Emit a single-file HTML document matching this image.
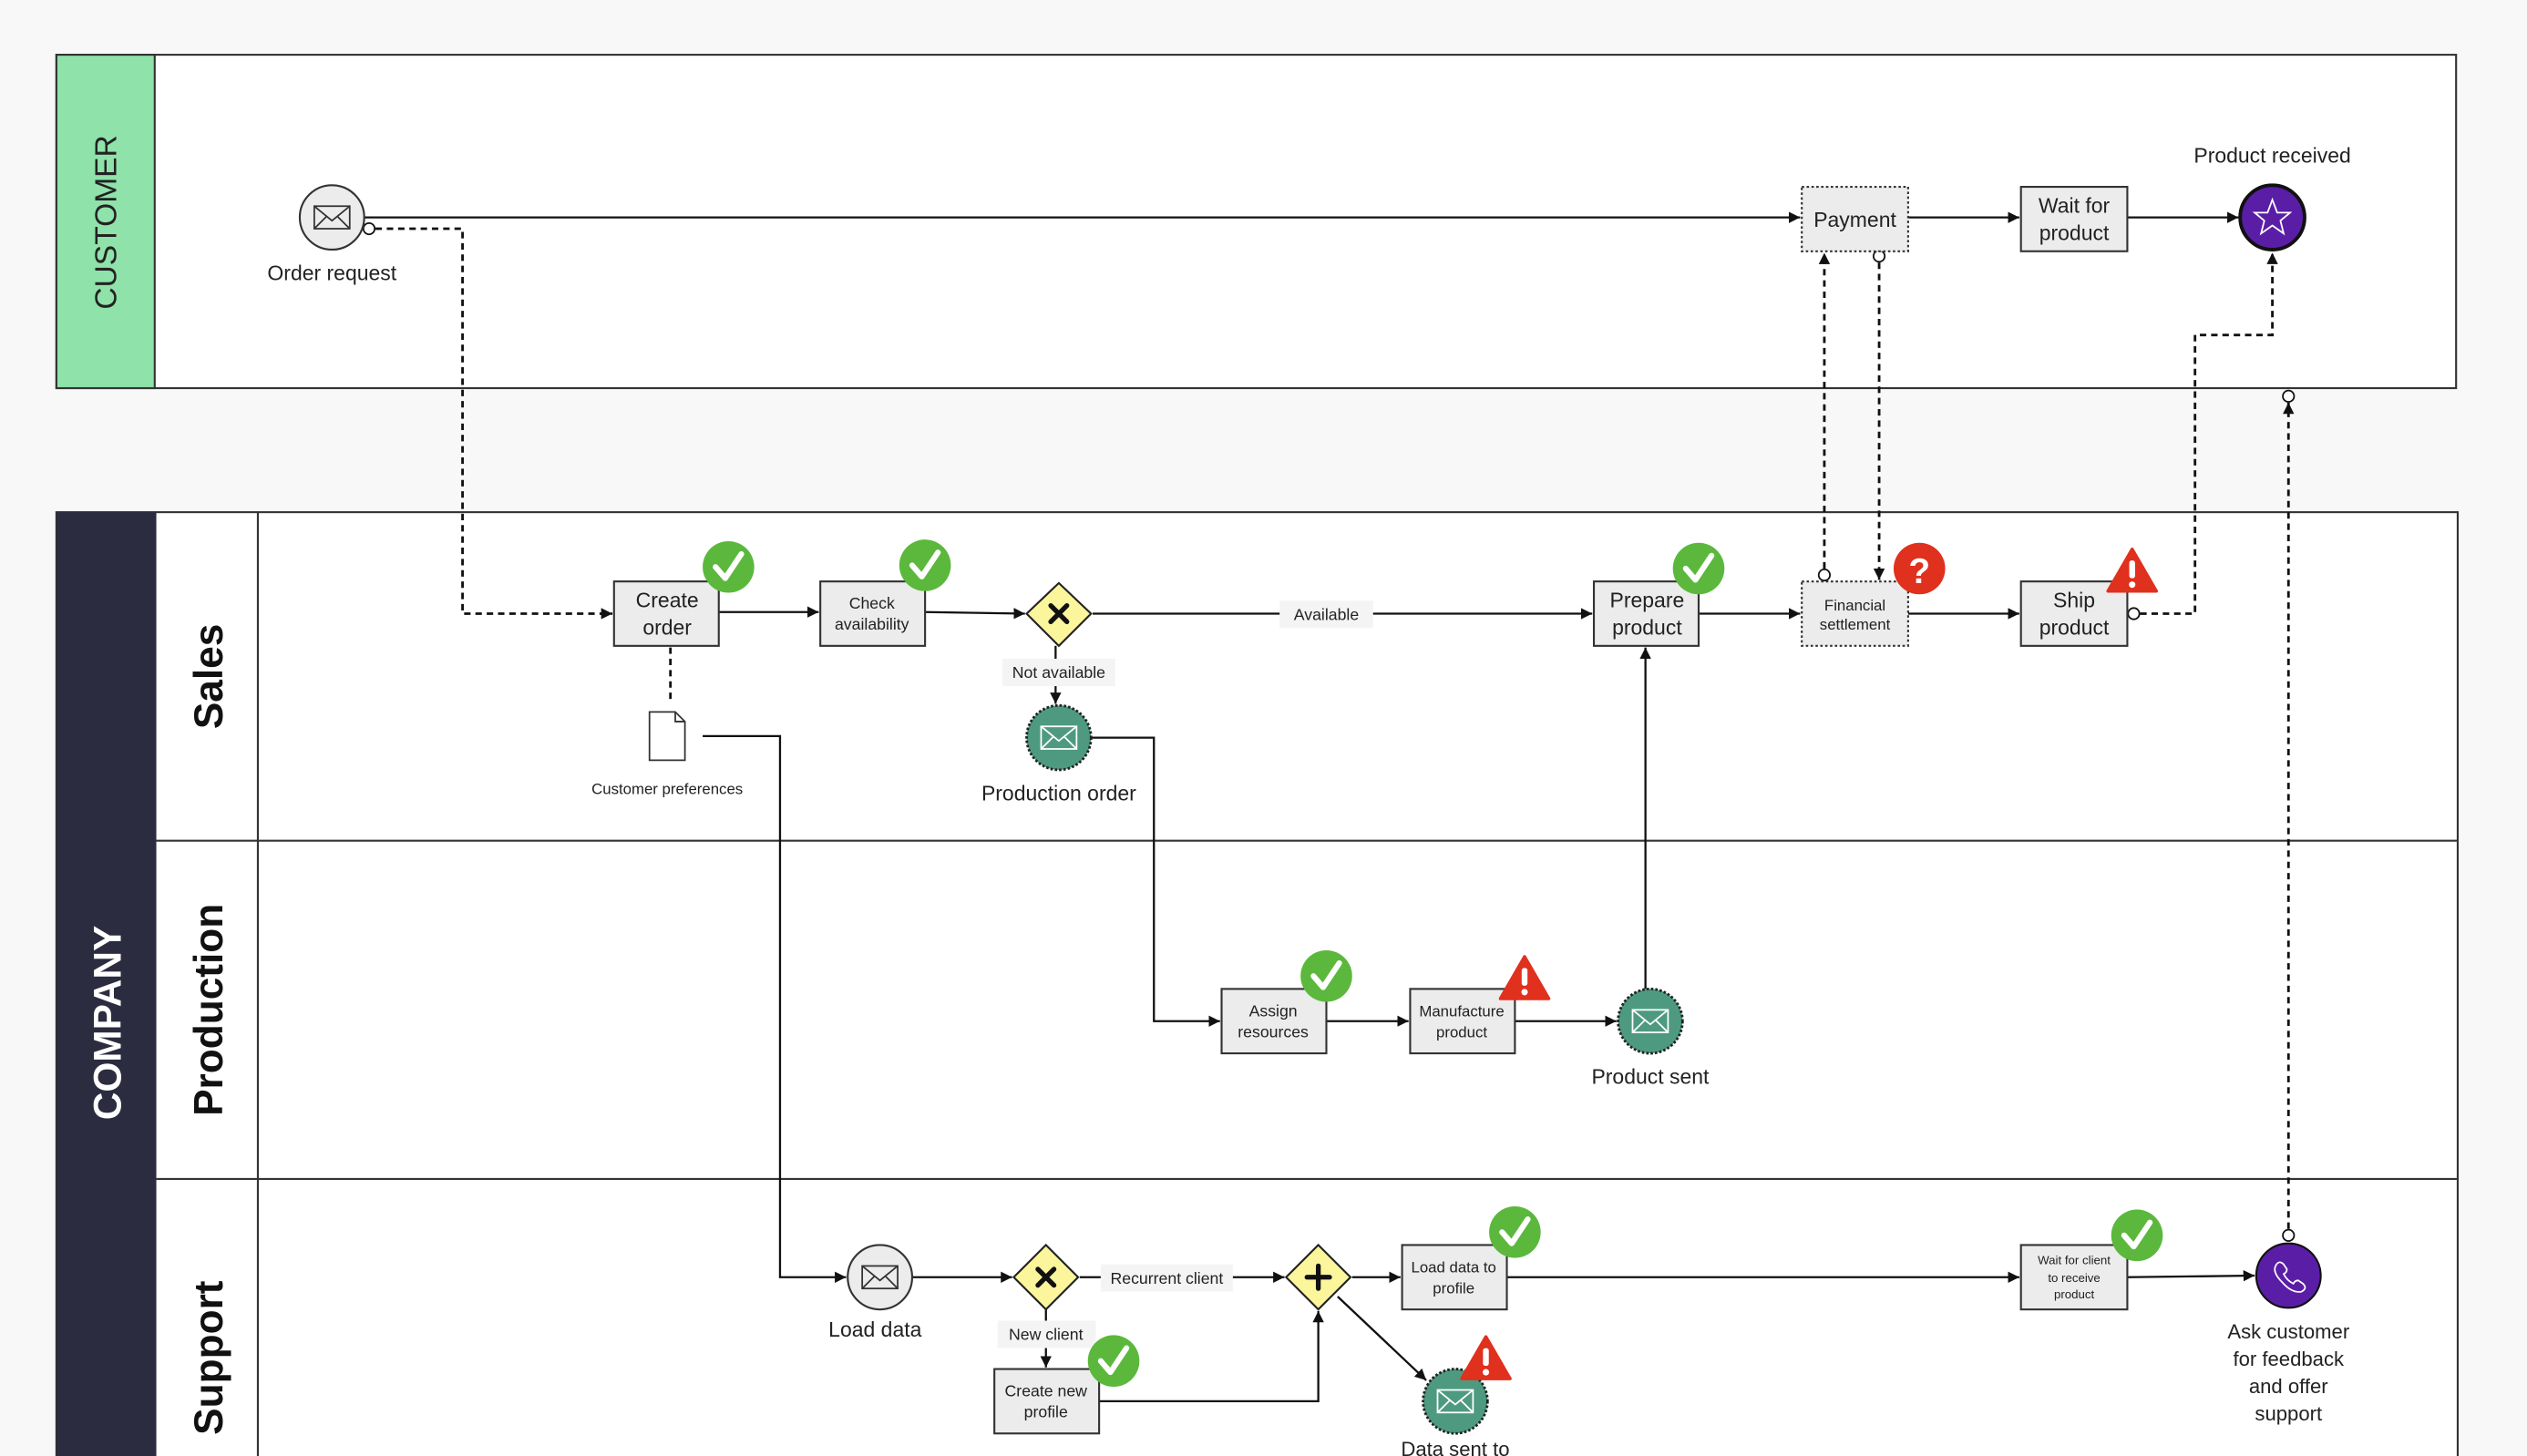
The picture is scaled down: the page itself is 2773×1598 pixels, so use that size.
<!DOCTYPE html>
<html><head><meta charset="utf-8"><style>
html,body{margin:0;padding:0;background:#f8f8f8;}
svg{display:block;font-family:"Liberation Sans",sans-serif;}
</style></head><body>
<svg width="2773" height="1598" viewBox="0 0 1568 904" preserveAspectRatio="none" xmlns="http://www.w3.org/2000/svg">
<defs>
<marker id="a" markerWidth="8" markerHeight="8" refX="7" refY="4" orient="auto" markerUnits="userSpaceOnUse"><path d="M0,0.5 L7,4 L0,7.5 Z" fill="#111"/></marker>
<g id="env"><rect x="-11" y="-7" width="22" height="14" fill="none" stroke="currentColor" stroke-width="1"/><path d="M-11,-7 L0,2 L11,-7 M-11,7 L-3,-1 M11,7 L3,-1" fill="none" stroke="currentColor" stroke-width="1"/></g>
<g id="chk"><circle r="16" fill="#5bb83c"/><path d="M-8,0 L-2,7 L8,-8" fill="none" stroke="#fff" stroke-width="3.5" stroke-linecap="round" stroke-linejoin="round"/></g>
<g id="warn"><path d="M0,-14 L15,12 L-15,12 Z" fill="#e0301e" stroke="#e0301e" stroke-width="2" stroke-linejoin="round"/><rect x="-1.8" y="-7" width="3.6" height="11" rx="1.5" fill="#fff"/><circle cx="0" cy="8" r="2" fill="#fff"/></g>
</defs>
<rect width="1568" height="904" fill="#f8f8f8"/>
<!-- customer pool -->
<rect x="35" y="34" width="1489" height="207" fill="#fff" stroke="#333" stroke-width="1.2"/>
<rect x="35" y="34" width="61" height="207" fill="#8fe2a9" stroke="#333" stroke-width="1.2"/>
<text transform="translate(72,138) rotate(-90)" text-anchor="middle" font-size="19" fill="#222">CUSTOMER</text>
<!-- company pool -->
<rect x="35" y="318" width="1490" height="600" fill="#fff" stroke="#333" stroke-width="1.2"/>
<rect x="35" y="318" width="62" height="600" fill="#2c2c40"/>
<text transform="translate(75,635) rotate(-90)" text-anchor="middle" font-size="24" font-weight="bold" fill="#fff">COMPANY</text>
<line x1="160" y1="318" x2="160" y2="904" stroke="#333" stroke-width="1.2"/>
<line x1="97" y1="522" x2="1525" y2="522" stroke="#333" stroke-width="1.2"/>
<line x1="97" y1="732" x2="1525" y2="732" stroke="#333" stroke-width="1.2"/>
<text transform="translate(138,420) rotate(-90)" text-anchor="middle" font-size="25" font-weight="bold" fill="#111">Sales</text>
<text transform="translate(138,627) rotate(-90)" text-anchor="middle" font-size="25" font-weight="bold" fill="#111">Production</text>
<text transform="translate(138,843) rotate(-90)" text-anchor="middle" font-size="25" font-weight="bold" fill="#111">Support</text>

<g fill="none" stroke="#111" stroke-width="1.3">
<!-- solid flows -->
<line x1="226" y1="135" x2="1117" y2="135" marker-end="url(#a)"/>
<line x1="1184" y1="135" x2="1253" y2="135" marker-end="url(#a)"/>
<line x1="1320" y1="135" x2="1389" y2="135" marker-end="url(#a)"/>
<line x1="446" y1="380" x2="508" y2="380" marker-end="url(#a)"/>
<line x1="574" y1="380" x2="636" y2="381" marker-end="url(#a)"/>
<line x1="678" y1="381" x2="988" y2="381" marker-end="url(#a)"/>
<line x1="1054" y1="381" x2="1117" y2="381" marker-end="url(#a)"/>
<line x1="1184" y1="381" x2="1253" y2="381" marker-end="url(#a)"/>
<line x1="655" y1="401" x2="655" y2="437" marker-end="url(#a)"/>
<path d="M436,457 H484 V793 H525" marker-end="url(#a)"/>
<path d="M677,458 H716 V634 H757" marker-end="url(#a)"/>
<line x1="823" y1="634" x2="874" y2="634" marker-end="url(#a)"/>
<line x1="940" y1="634" x2="1003" y2="634" marker-end="url(#a)"/>
<line x1="1021" y1="614" x2="1021" y2="402" marker-end="url(#a)"/>
<line x1="566" y1="793" x2="628" y2="793" marker-end="url(#a)"/>
<line x1="670" y1="793" x2="797" y2="793" marker-end="url(#a)"/>
<line x1="839" y1="793" x2="869" y2="793" marker-end="url(#a)"/>
<line x1="935" y1="793" x2="1253" y2="793" marker-end="url(#a)"/>
<line x1="1320" y1="793" x2="1399" y2="792" marker-end="url(#a)"/>
<line x1="649" y1="813" x2="649" y2="849" marker-end="url(#a)"/>
<path d="M682,870 H818 V814" marker-end="url(#a)"/>
<line x1="830" y1="805" x2="885" y2="857" marker-end="url(#a)"/>
</g>
<g fill="none" stroke="#111" stroke-width="1.6" stroke-dasharray="4,3">
<path d="M233,142 H287 V381 H380" marker-end="url(#a)"/>
<line x1="416" y1="402" x2="416" y2="437"/>
<line x1="1132" y1="353" x2="1132" y2="157" marker-end="url(#a)"/>
<line x1="1166" y1="163" x2="1166" y2="360" marker-end="url(#a)"/>
<path d="M1328,381 H1362 V208 H1410 V157" marker-end="url(#a)"/>
<line x1="1420" y1="763" x2="1420" y2="250" marker-end="url(#a)"/>
</g>
<g fill="#fff" stroke="#111" stroke-width="1">
<circle cx="229" cy="142" r="3.5"/><circle cx="1132" cy="357" r="3.5"/><circle cx="1166" cy="159" r="3.5"/>
<circle cx="1324" cy="381" r="3.5"/><circle cx="1420" cy="767" r="3.5"/><circle cx="1420" cy="246" r="3.5"/>
</g>
<!-- labels with backgrounds -->
<g font-size="10" fill="#222" text-anchor="middle">
<rect x="794" y="373" width="58" height="17" fill="#f4f4f4"/><text x="823" y="385">Available</text>
<rect x="622" y="409" width="70" height="17" fill="#f4f4f4"/><text x="657" y="421">Not available</text>
<rect x="683" y="785" width="82" height="17" fill="#f4f4f4"/><text x="724" y="797">Recurrent client</text>
<rect x="619" y="820" width="61" height="17" fill="#f4f4f4"/><text x="649" y="832">New client</text>
</g>
<!-- tasks -->
<g fill="#ececec" stroke="#333" stroke-width="1.2">
<rect x="1118" y="116" width="66" height="40" stroke-dasharray="1.5,1.5"/>
<rect x="1254" y="116" width="66" height="40"/>
<rect x="381" y="361" width="65" height="40"/>
<rect x="509" y="361" width="65" height="40"/>
<rect x="989" y="361" width="65" height="40"/>
<rect x="1118" y="361" width="66" height="40" stroke-dasharray="1.5,1.5"/>
<rect x="1254" y="361" width="66" height="40"/>
<rect x="758" y="614" width="65" height="40"/>
<rect x="875" y="614" width="65" height="40"/>
<rect x="870" y="773" width="65" height="40"/>
<rect x="1254" y="773" width="66" height="40"/>
<rect x="617" y="850" width="65" height="40"/>
</g>
<g fill="#222" text-anchor="middle">
<text x="1151" y="141" font-size="13">Payment</text>
<text x="1287" y="132" font-size="13">Wait for</text><text x="1287" y="149" font-size="13">product</text>
<text x="414" y="377" font-size="13">Create</text><text x="414" y="394" font-size="13">order</text>
<text x="541" y="378" font-size="10">Check</text><text x="541" y="391" font-size="10">availability</text>
<text x="1022" y="377" font-size="13">Prepare</text><text x="1022" y="394" font-size="13">product</text>
<text x="1151" y="379" font-size="9.5">Financial</text><text x="1151" y="391" font-size="9.5">settlement</text>
<text x="1287" y="377" font-size="13">Ship</text><text x="1287" y="394" font-size="13">product</text>
<text x="790" y="631" font-size="10">Assign</text><text x="790" y="644" font-size="10">resources</text>
<text x="907" y="631" font-size="9.5">Manufacture</text><text x="907" y="644" font-size="9.5">product</text>
<text x="902" y="790" font-size="9.5">Load data to</text><text x="902" y="803" font-size="9.5">profile</text>
<text x="1287" y="785" font-size="7.5">Wait for client</text><text x="1287" y="796" font-size="7.5">to receive</text><text x="1287" y="806" font-size="7.5">product</text>
<text x="649" y="867" font-size="10">Create new</text><text x="649" y="880" font-size="10">profile</text>
<text x="206" y="174" font-size="13">Order request</text>
<text x="1410" y="101" font-size="13">Product received</text>
<text x="414" y="493" font-size="9.5">Customer preferences</text>
<text x="657" y="497" font-size="13">Production order</text>
<text x="1024" y="673" font-size="13">Product sent</text>
<text x="543" y="830" font-size="13">Load data</text>
<text x="1420" y="831" font-size="12.5">Ask customer</text><text x="1420" y="848" font-size="12.5">for feedback</text><text x="1420" y="865" font-size="12.5">and offer</text><text x="1420" y="882" font-size="12.5">support</text>
<text x="903" y="904" font-size="12.5">Data sent to</text>
</g>
<!-- events -->
<circle cx="206" cy="135" r="20" fill="#ececec" stroke="#333" stroke-width="1.2"/><use href="#env" x="206" y="135" style="color:#333"/>
<circle cx="546" cy="793" r="20" fill="#ececec" stroke="#333" stroke-width="1.2"/><use href="#env" x="546" y="793" style="color:#333"/>
<circle cx="1410" cy="135" r="20" fill="#5a1ea6" stroke="#111" stroke-width="2.2"/>
<path d="M1410,124 L1413,132 L1421,132 L1415,137 L1417,145 L1410,140 L1403,145 L1405,137 L1399,132 L1407,132 Z" fill="none" stroke="#fff" stroke-width="1"/>
<circle cx="1420" cy="792" r="20" fill="#5a1ea6" stroke="#111" stroke-width="1.2"/>
<path d="M1412,786 q2,-4 5,-1 l2,3 q0,2 -2,3 q2,4 6,6 q1,-2 3,-2 l3,2 q3,3 -1,5 q-6,1 -12,-6 q-6,-6 -4,-10 z" fill="none" stroke="#fff" stroke-width="1"/>
<g fill="#4e9a80" stroke="#222" stroke-width="1.6" stroke-dasharray="1.5,1.2">
<circle cx="657" cy="458" r="20"/><circle cx="1024" cy="634" r="20"/><circle cx="903" cy="870" r="20"/>
</g>
<use href="#env" x="657" y="458" style="color:#fff"/><use href="#env" x="1024" y="634" style="color:#fff"/><use href="#env" x="903" y="870" style="color:#fff"/>
<!-- gateways -->
<g fill="#fbf59c" stroke="#222" stroke-width="1.2">
<path d="M657,362 L677,381 L657,401 L637,381 Z"/>
<path d="M649,773 L669,793 L649,813 L629,793 Z"/>
<path d="M818,773 L838,793 L818,813 L798,793 Z"/>
</g>
<g stroke="#111" stroke-width="3" stroke-linecap="round">
<path d="M652,376 L662,386 M662,376 L652,386"/>
<path d="M644,788 L654,798 M654,788 L644,798"/>
<path d="M818,786 V800 M811,793 H825"/>
</g>
<!-- data object -->
<path d="M403,442 H419 L425,448 V472 H403 Z M419,442 V448 H425" fill="#fff" stroke="#333" stroke-width="1"/>
<!-- badges -->
<use href="#chk" x="452" y="352"/><use href="#chk" x="574" y="351"/><use href="#chk" x="1054" y="353"/>
<use href="#chk" x="823" y="606"/><use href="#chk" x="940" y="765"/><use href="#chk" x="1326" y="767"/><use href="#chk" x="691" y="845"/>
<circle cx="1191" cy="353" r="16" fill="#e0301e"/>
<text x="1191" y="362" text-anchor="middle" font-size="22" font-weight="bold" fill="#fff">?</text>
<use href="#warn" x="1323" y="355"/><use href="#warn" x="946" y="608"/><use href="#warn" x="922" y="844"/>
</svg>
</body></html>
